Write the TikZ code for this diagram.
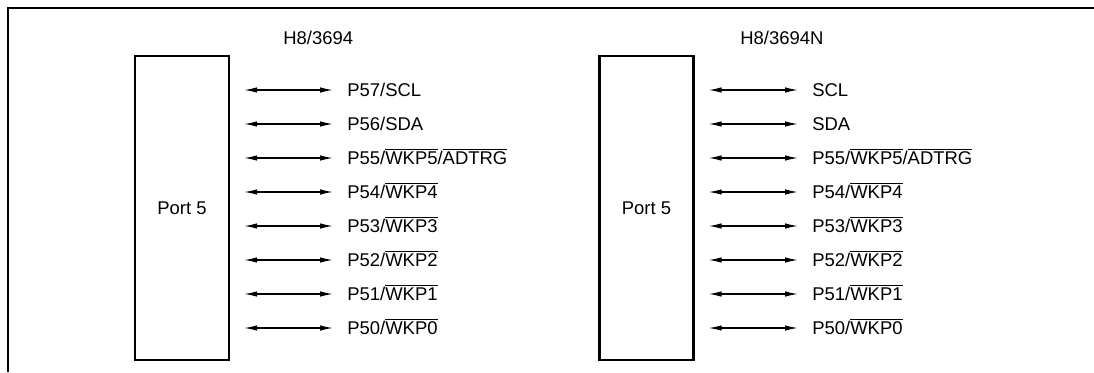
\documentclass[tikz,border=0pt]{standalone}
\usepackage{fontspec}
\setmainfont{Liberation Sans}
\usepackage{tikz}
\usetikzlibrary{arrows.meta,positioning}

\newcommand{\ovl}[1]{$\overline{\mbox{#1}}$}

\begin{document}
\begin{tikzpicture}[
  font=\fontsize{10.5}{12.5}\selectfont,
  portbox/.style={draw, line width=1.3pt, minimum width=1.88cm, minimum height=6.08cm, inner sep=0pt},
  pin/.style={anchor=west, inner sep=0pt, text height=7.4pt, text depth=0pt},
  title/.style={anchor=west, inner sep=0pt, text height=7.4pt, text depth=0pt},
  bidir/.style={{Latex[length=2.6mm,width=1.1mm]}-{Latex[length=2.6mm,width=1.1mm]}, line width=0.7pt, shorten <=0.28cm, shorten >=0.28cm}
]
\useasboundingbox (0,0) rectangle (21.88,7.44);
% frame
\draw[line width=1.6pt] (0.16,0) -- (0.16,7.28) -- (21.88,7.28);

% H8/3694
\node[title] (tA) at (5.66,6.68) {H8/3694};
\node[portbox] (portA) at (3.64,3.28) {Port 5};
\node[pin] (a7) at (6.94,5.64) {P57/SCL};
\node[pin] (a6) at (6.94,4.96) {P56/SDA};
\node[pin] (a5) at (6.94,4.28) {P55/\ovl{WKP5}/\ovl{ADTRG}};
\node[pin] (a4) at (6.94,3.60) {P54/\ovl{WKP4}};
\node[pin] (a3) at (6.94,2.92) {P53/\ovl{WKP3}};
\node[pin] (a2) at (6.94,2.24) {P52/\ovl{WKP2}};
\node[pin] (a1) at (6.94,1.56) {P51/\ovl{WKP1}};
\node[pin] (a0) at (6.94,0.88) {P50/\ovl{WKP0}};

% H8/3694N
\node[title] (tB) at (14.80,6.68) {H8/3694N};
\node[portbox] (portB) at (12.93,3.28) {Port 5};
\node[pin] (b7) at (16.24,5.64) {SCL};
\node[pin] (b6) at (16.24,4.96) {SDA};
\node[pin] (b5) at (16.24,4.28) {P55/\ovl{WKP5}/\ovl{ADTRG}};
\node[pin] (b4) at (16.24,3.60) {P54/\ovl{WKP4}};
\node[pin] (b3) at (16.24,2.92) {P53/\ovl{WKP3}};
\node[pin] (b2) at (16.24,2.24) {P52/\ovl{WKP2}};
\node[pin] (b1) at (16.24,1.56) {P51/\ovl{WKP1}};
\node[pin] (b0) at (16.24,0.88) {P50/\ovl{WKP0}};

\foreach \i in {0,...,7} {
  \draw[bidir] (portA.east |- a\i.west) -- (a\i.west);
  \draw[bidir] (portB.east |- b\i.west) -- (b\i.west);
}
\end{tikzpicture}
\end{document}
